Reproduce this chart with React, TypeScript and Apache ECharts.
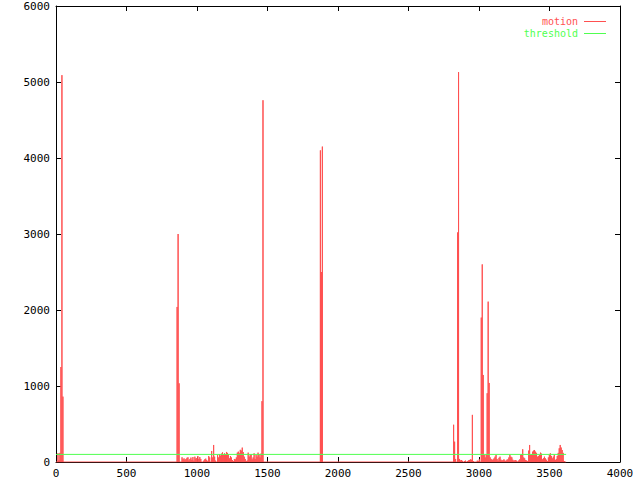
import { useEffect, useRef } from 'react';
import * as echarts from 'echarts';

// sampling interval of the motion series (x units between impulses)
const SAMPLE_STEP = 7;

// segment 1: start of recording
const seg1Start = 0;
const seg1Values = [0, 0, 115, 20, 120, 1250, 5090, 860, 0];

// segment 2: 860 .. 1475
const seg2Start = 859;
const seg2Values = [
  2040, 3000, 1035,
  8, 0, 62, 35, 48, 30, 40, 55, 62, 20, 40, 58, 28, 65,
  18, 70, 45, 52, 79, 40, 65, 40, 0, 0,
  18, 35, 44, 26, 10, 79, 60, 5,
  145, 60, 224,
  70, 18, 5, 92, 60,
  100, 85, 110, 127, 95, 114, 100, 132, 120, 100, 48, 79, 60, 26, 13, 40, 35,
  60, 123, 136, 114, 160, 150, 189, 130,
  70, 40, 13, 20, 123, 70, 90, 100, 35, 60, 114, 40, 92, 70, 123, 100, 60, 110,
  800, 4760, 0,
];

// segment 3: around 1880
const seg3Start = 1875;
const seg3Values = [4100, 2500, 4150, 0];

// segment 4: 2820 .. end
const seg4Start = 2820;
const seg4Values = [
  490, 267, 40, 0, 3020, 5130,
  40, 20, 26, 15, 9, 13, 18, 9, 13, 20, 26, 35, 30,
  620,
  13, 9, 5, 9, 18, 13, 35, 0,
  1900, 2600, 1145, 92, 60, 100, 905, 2110, 1040,
  61, 40, 26, 35, 48, 70, 92, 40, 18, 55, 70, 30, 18, 25, 35, 20, 13, 30, 35, 60,
  96, 70, 61, 30, 18, 22, 26, 15, 9, 20, 35,
  92, 100, 167, 60, 48, 26, 20, 13, 150, 224, 92, 100, 136, 150, 158, 136, 120, 70,
  80, 92, 123, 110, 35, 50, 70, 48, 30, 13, 60, 92, 114, 80, 48, 70, 92, 26, 40,
  79, 120, 180, 224, 190, 158, 120, 13, 0,
  0,
];

const thresholdValue = 100;
const thresholdStart = 0;
const thresholdEnd = 3618;

const xMin = 0;
const xMax = 4000;
const xInterval = 500;
const yMin = 0;
const yMax = 6000;
const yInterval = 1000;

const RED = '#ff5050';
const GREEN = '#50ff50';
const FONT = '"DejaVu Sans Mono", "Liberation Mono", monospace';

const segments: [number, number[]][] = [
  [seg1Start, seg1Values],
  [seg2Start, seg2Values],
  [seg3Start, seg3Values],
  [seg4Start, seg4Values],
];

function buildImpulses(): number[][] {
  const pts: number[][] = [];
  for (const [start, values] of segments) {
    values.forEach((v, i) => {
      const x = start + i * SAMPLE_STEP;
      pts.push([x, 0], [x, v], [x, 0]);
    });
  }
  return pts;
}

const plain = (v: number) => String(v);

export default function App() {
  const ref = useRef<HTMLDivElement>(null);
  useEffect(() => {
    if (!ref.current) return;
    const chart = echarts.init(ref.current, undefined, { renderer: 'svg' });
    const axisCommon = {
      type: 'value' as const,
      splitLine: { show: false },
      axisLine: { show: true, onZero: false, lineStyle: { color: '#000', width: 1 } },
      axisTick: { show: true, inside: true, length: 5, lineStyle: { color: '#000' } },
    };
    chart.setOption({
      animation: false,
      backgroundColor: '#fff',
      grid: { left: 56, right: 20, top: 6, bottom: 18, containLabel: false },
      legend: {
        orient: 'vertical',
        right: 29,
        top: 11,
        align: 'right',
        icon: 'rect',
        itemWidth: 22,
        itemHeight: 1,
        itemGap: 1,
        textStyle: { fontFamily: FONT, fontSize: 10, lineHeight: 11, padding: [0, 1, 0, 0] },
        data: [
          { name: 'motion', textStyle: { color: RED }, itemStyle: { color: RED } },
          { name: 'threshold', textStyle: { color: GREEN }, itemStyle: { color: GREEN } },
        ],
      },
      xAxis: [
        {
          ...axisCommon,
          position: 'bottom',
          min: xMin,
          max: xMax,
          interval: xInterval,
          axisLabel: { color: '#000', fontFamily: FONT, fontSize: 11, margin: 6, formatter: plain },
        },
        {
          ...axisCommon,
          position: 'top',
          min: xMin,
          max: xMax,
          interval: xInterval,
          axisLabel: { show: false },
        },
      ],
      yAxis: [
        {
          ...axisCommon,
          position: 'left',
          min: yMin,
          max: yMax,
          interval: yInterval,
          axisLabel: { color: '#000', fontFamily: FONT, fontSize: 11, margin: 6, formatter: plain },
        },
        {
          ...axisCommon,
          position: 'right',
          min: yMin,
          max: yMax,
          interval: yInterval,
          axisLabel: { show: false },
        },
      ],
      series: [
        {
          name: 'motion',
          type: 'line',
          xAxisIndex: 0,
          yAxisIndex: 0,
          data: buildImpulses(),
          showSymbol: false,
          symbol: 'none',
          lineStyle: { color: RED, width: 1 },
          itemStyle: { color: RED },
          z: 3,
        },
        {
          name: 'threshold',
          type: 'line',
          xAxisIndex: 0,
          yAxisIndex: 0,
          data: [
            [thresholdStart, thresholdValue],
            [thresholdEnd, thresholdValue],
          ],
          showSymbol: false,
          symbol: 'none',
          lineStyle: { color: GREEN, width: 1 },
          itemStyle: { color: GREEN },
          z: 4,
        },
      ],
    });
    return () => chart.dispose();
  }, []);
  return (
    <div
      ref={ref}
      style={{ position: 'fixed', left: 0, top: 0, width: 640, height: 480, background: '#fff' }}
    />
  );
}
